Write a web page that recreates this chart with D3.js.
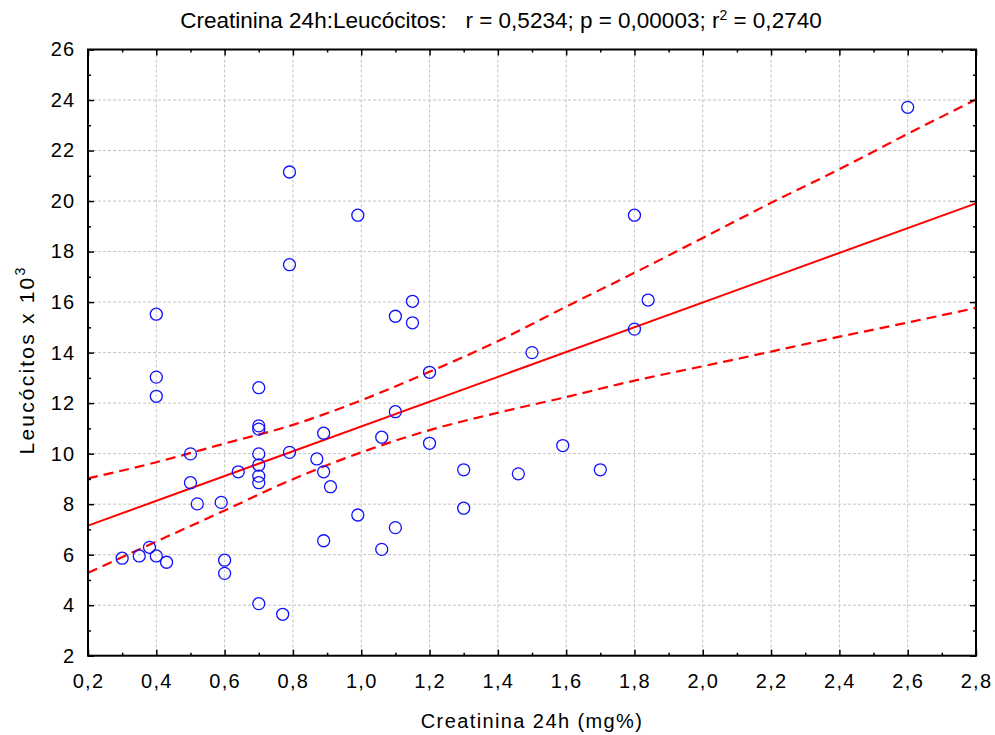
<!DOCTYPE html>
<html>
<head>
<meta charset="utf-8">
<script src="https://cdn.jsdelivr.net/npm/d3@7"></script>
<style>
  body { margin: 0; background: #fff; }
  text { font-family: "Liberation Sans", Arial, sans-serif; fill: #000; }
</style>
</head>
<body>
<script>
// data
const creatinina = [0.30, 0.35, 0.38, 0.40, 0.43, 0.40, 0.40, 0.40, 0.50, 0.50,
  0.52, 0.59, 0.60, 0.60, 0.64, 0.70, 0.70, 0.70, 0.70, 0.70,
  0.70, 0.70, 0.70, 0.77, 0.79, 0.79, 0.79, 0.87, 0.89, 0.89,
  0.89, 0.91, 0.99, 0.99, 1.06, 1.06, 1.10, 1.10, 1.10, 1.15,
  1.15, 1.20, 1.20, 1.30, 1.30, 1.46, 1.50, 1.59, 1.70, 1.80,
  1.80, 1.84, 2.60]
const leucocitos = [5.86, 5.95, 6.29, 5.95, 5.70, 15.52, 13.03, 12.27, 9.99, 8.85,
  8.01, 8.07, 5.78, 5.26, 9.28, 12.61, 11.10, 10.97, 9.99, 9.55,
  9.11, 8.85, 4.06, 3.64, 21.15, 17.48, 10.05, 9.79, 10.81, 9.28,
  6.55, 8.69, 19.44, 7.57, 10.65, 6.21, 15.44, 11.66, 7.07, 16.03,
  15.18, 13.22, 10.41, 9.36, 7.84, 9.20, 14.00, 10.32, 9.36, 19.44,
  14.93, 16.08, 23.71]

// regression line and 95% band, read at the x grid
const fitX = [0.2, 2.8]
const fitY = [7.15, 19.91]
const bandX = [0.2, 0.4, 0.6, 0.8, 1.0, 1.2, 1.4, 1.6, 1.8, 2.0, 2.2, 2.4, 2.6, 2.8]
const bandUpper = [9.02, 9.66, 10.40, 11.14, 12.11, 13.24, 14.45, 15.82, 17.16, 18.54, 19.93, 21.26, 22.66, 24.02]
const bandLower = [5.28, 6.52, 7.75, 8.99, 10.05, 10.93, 11.62, 12.24, 12.89, 13.46, 14.04, 14.63, 15.19, 15.77]

const xTicks = [0.2, 0.4, 0.6, 0.8, 1.0, 1.2, 1.4, 1.6, 1.8, 2.0, 2.2, 2.4, 2.6, 2.8]
const yTicks = [2, 4, 6, 8, 10, 12, 14, 16, 18, 20, 22, 24, 26]
const xMinor = [0.3, 0.5, 0.7, 0.9, 1.1, 1.3, 1.5, 1.7, 1.9, 2.1, 2.3, 2.5, 2.7]
const yMinor = [3, 5, 7, 9, 11, 13, 15, 17, 19, 21, 23, 25]

const title = 'Creatinina 24h:Leucócitos:   r = 0,5234; p = 0,00003; r'
const xTitle = 'Creatinina 24h (mg%)'
const yTitle = 'Leucócitos x 10'

let w = 995
let h = 735
const pLeft = 88, pRight = 976, pTop = 49.5, pBottom = 655.7

const svg = d3.select('body').append('svg')
  .attr('width', w)
  .attr('height', h)

const xScale = d3.scaleLinear().domain([0.2, 2.8]).range([pLeft, pRight])
const yScale = d3.scaleLinear().domain([2, 26]).range([pBottom, pTop])

const fmt = d => d3.format('.1f')(d).replace('.', ',')

// grid
const grid = svg.append('g')
grid.selectAll('.vg')
  .data(xTicks.slice(1, -1))
  .enter().append('line')
  .attr('x1', d => xScale(d)).attr('x2', d => xScale(d))
  .attr('y1', pTop).attr('y2', pBottom)
grid.selectAll('.hg')
  .data(yTicks.slice(1, -1))
  .enter().append('line')
  .attr('y1', d => yScale(d)).attr('y2', d => yScale(d))
  .attr('x1', pLeft).attr('x2', pRight)
grid.selectAll('line')
  .attr('stroke', '#c4c4c4')
  .attr('stroke-width', 1)
  .attr('stroke-dasharray', '3,2')

// regression + band
const line = d3.line().x(d => xScale(d[0])).y(d => yScale(d[1]))
const bandLine = d3.line().x(d => xScale(d[0])).y(d => yScale(d[1])).curve(d3.curveMonotoneX)

svg.append('path')
  .attr('d', line(d3.zip(fitX, fitY)))
  .attr('fill', 'none').attr('stroke', '#ff0000').attr('stroke-width', 2)

;[bandUpper, bandLower].forEach(b => {
  svg.append('path')
    .attr('d', bandLine(d3.zip(bandX, b)))
    .attr('fill', 'none').attr('stroke', '#ff0000').attr('stroke-width', 2.2)
    .attr('stroke-dasharray', '10,6')
})

// points
svg.selectAll('circle')
  .data(d3.zip(creatinina, leucocitos))
  .enter()
  .append('circle')
  .attr('cx', d => xScale(d[0]))
  .attr('cy', d => yScale(d[1]))
  .attr('r', 6)
  .attr('fill', 'none')
  .attr('stroke', '#1010ff')
  .attr('stroke-width', 1.3)

// axes (ticks inward on all four sides)
function styleAxis(g) {
  g.select('.domain').remove()
  g.selectAll('.tick line').attr('stroke', '#000').attr('stroke-width', 1.5)
  g.selectAll('.tick text')
    .style('font-size', '20px')
    .style('letter-spacing', '1.3px')
    .attr('fill', '#000')
}

svg.append('g')
  .attr('transform', 'translate(0,' + pBottom + ')')
  .call(d3.axisBottom(xScale).tickValues(xTicks).tickSize(-6).tickPadding(18).tickFormat(fmt))
  .call(styleAxis)
svg.append('g')
  .attr('transform', 'translate(0,' + pBottom + ')')
  .call(d3.axisBottom(xScale).tickValues(xMinor).tickSize(-3).tickFormat(''))
  .call(styleAxis)
svg.append('g')
  .attr('transform', 'translate(0,' + pTop + ')')
  .call(d3.axisTop(xScale).tickValues(xTicks).tickSize(-6).tickFormat(''))
  .call(styleAxis)
svg.append('g')
  .attr('transform', 'translate(0,' + pTop + ')')
  .call(d3.axisTop(xScale).tickValues(xMinor).tickSize(-3).tickFormat(''))
  .call(styleAxis)

svg.append('g')
  .attr('transform', 'translate(' + pLeft + ',0)')
  .call(d3.axisLeft(yScale).tickValues(yTicks).tickSize(-6).tickPadding(12.5).tickFormat(d => d))
  .call(styleAxis)
svg.append('g')
  .attr('transform', 'translate(' + pLeft + ',0)')
  .call(d3.axisLeft(yScale).tickValues(yMinor).tickSize(-3).tickFormat(''))
  .call(styleAxis)
svg.append('g')
  .attr('transform', 'translate(' + pRight + ',0)')
  .call(d3.axisRight(yScale).tickValues(yTicks).tickSize(-6).tickFormat(''))
  .call(styleAxis)
svg.append('g')
  .attr('transform', 'translate(' + pRight + ',0)')
  .call(d3.axisRight(yScale).tickValues(yMinor).tickSize(-3).tickFormat(''))
  .call(styleAxis)

// frame
svg.append('rect')
  .attr('x', pLeft).attr('y', pTop)
  .attr('width', pRight - pLeft).attr('height', pBottom - pTop)
  .attr('fill', 'none').attr('stroke', '#000').attr('stroke-width', 2)

// titles
const t = svg.append('text')
  .attr('x', 501).attr('y', 28)
  .attr('text-anchor', 'middle')
  .style('font-family', '"Liberation Sans Narrow", "Arial Narrow", "Liberation Sans", sans-serif')
  .style('font-size', '22.5px')
  .style('white-space', 'pre')
t.append('tspan').text(title)
t.append('tspan').text('2').attr('dy', -8).style('font-size', '14px')
t.append('tspan').text(' = 0,2740').attr('dy', 8)

svg.append('text')
  .attr('x', (pLeft + pRight) / 2).attr('y', 728)
  .attr('text-anchor', 'middle')
  .style('font-size', '20px')
  .style('letter-spacing', '1.4px')
  .text(xTitle)

const yt = svg.append('text')
  .attr('transform', 'translate(34,' + 360 + ') rotate(-90)')
  .attr('text-anchor', 'middle')
  .style('font-size', '21px')
  .style('letter-spacing', '2.2px')
yt.append('tspan').text(yTitle)
yt.append('tspan').text('3').attr('dy', -9).style('font-size', '14px')
</script>
</body>
</html>
